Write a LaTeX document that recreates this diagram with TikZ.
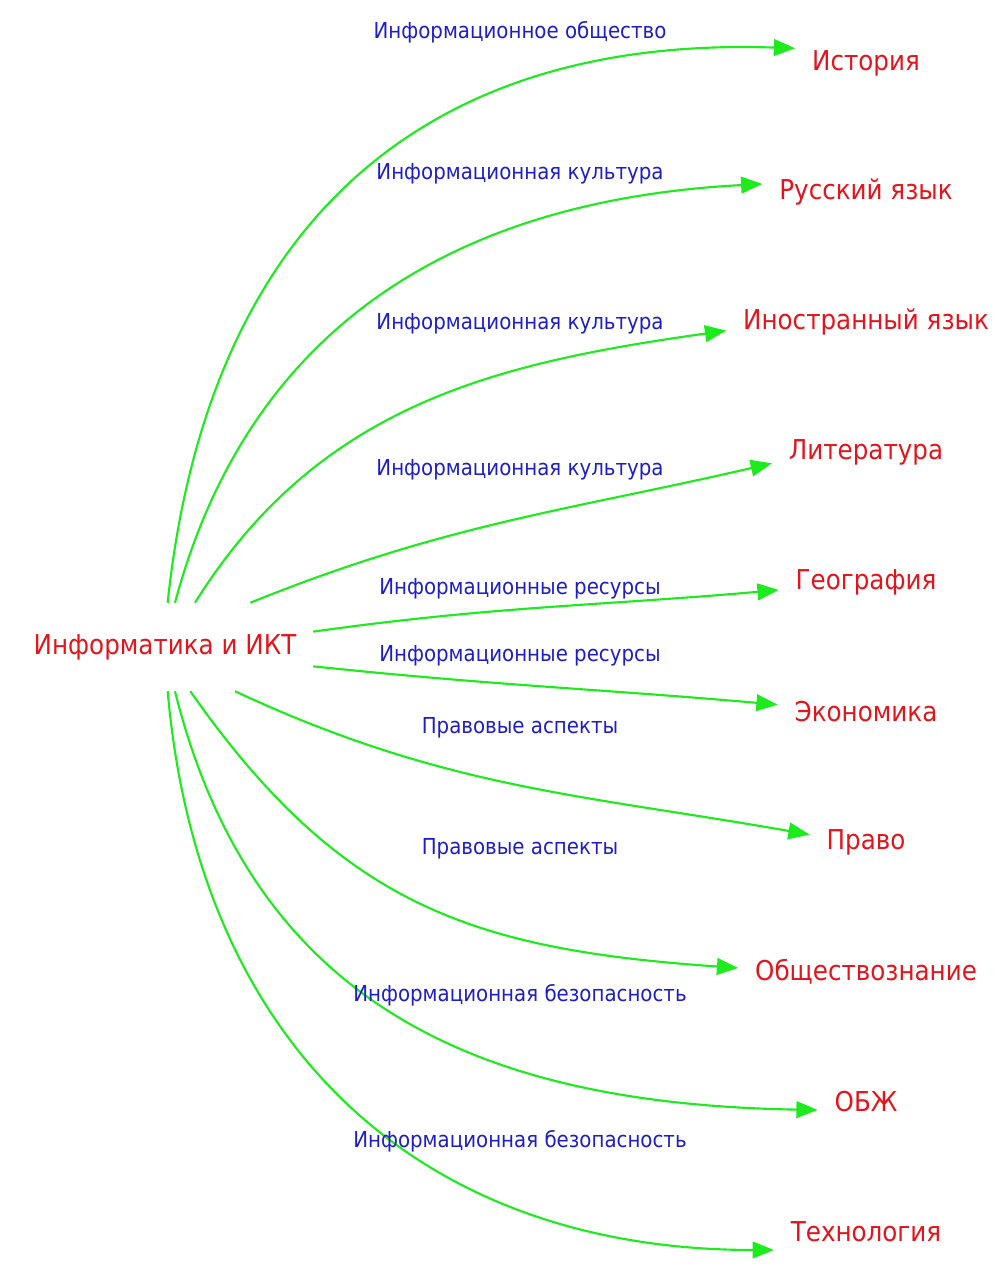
\documentclass[tikz,border=0pt]{standalone}
\usepackage{fontspec}
\setmainfont[FakeStretch=0.9]{DejaVu Sans}
\usetikzlibrary{arrows.meta}
\definecolor{subjred}{RGB}{228,20,28}
\definecolor{linkblue}{RGB}{30,30,200}
\definecolor{flowgreen}{RGB}{30,235,30}
\tikzset{
  subj/.style={text=subjred, font=\fontsize{20.5}{22}\selectfont, inner xsep=12.5pt, inner ysep=0pt, minimum height=20pt},
  link/.style={text=linkblue, font=\fontsize{16.5}{18}\selectfont, inner sep=0pt},
  flow/.style={draw=flowgreen, line width=1.6pt, -{Triangle[length=16pt,width=12.5pt]}}
}
\begin{document}
\begin{tikzpicture}[x=0.75pt,y=0.75pt]
\useasboundingbox (0,0) rectangle (1002,1280);
\node [subj, minimum height=63pt] (ikt) at (165,633) {Информатика и ИКТ};

\node [subj] (hist) at (866,1217) {История};
\node [subj] (rus) at (866,1088) {Русский язык};
\node [subj] (foreign) at (866,958) {Иностранный язык};
\node [subj] (lit) at (866,828) {Литература};
\node [subj] (geo) at (866,698) {География};
\node [subj] (econ) at (866,568) {Экономика};
\node [subj] (law) at (866,438) {Право};
\node [subj] (soc) at (866,308) {Обществознание};
\node [subj] (obzh) at (866,178) {ОБЖ};
\node [subj] (tech) at (866,48) {Технология};

\draw [flow] ([xshift=2pt,yshift=1.5pt]ikt.north) to[out=84,in=178,looseness=1.15] ([yshift=11pt]hist.west);
\draw [flow] ([xshift=7.5pt,yshift=1.5pt]ikt.north) to[out=75,in=183,looseness=1.05] ([yshift=6pt]rus.west);
\draw [flow] ([xshift=22.5pt,yshift=1.5pt]ikt.north) to[out=58,in=188] ([yshift=-6.5pt]foreign.west);
\draw [flow] ([xshift=64pt,yshift=1.5pt]ikt.north) to[out=22,in=193] ([yshift=-8.5pt]lit.west);
\draw [flow] ([yshift=11.5pt]ikt.east) to[out=8,in=185] ([yshift=-6pt]geo.west);
\draw [flow] ([yshift=-14.5pt]ikt.east) to[out=-6,in=175] ([yshift=5.5pt]econ.west);
\draw [flow] ([xshift=52.5pt,yshift=-1.5pt]ikt.south) to[out=-25,in=170] ([yshift=5.5pt]law.west);
\draw [flow] ([xshift=19pt,yshift=-1.5pt]ikt.south) to[out=-55,in=176,looseness=1.1] ([yshift=3pt]soc.west);
\draw [flow] ([xshift=7.5pt,yshift=-1.5pt]ikt.south) to[out=-76,in=179,looseness=1.1] ([yshift=-6pt]obzh.west);
\draw [flow] ([xshift=2pt,yshift=-1.5pt]ikt.south) to[out=-85,in=180,looseness=1.1] ([yshift=-13.5pt]tech.west);

\node [link] (l1) at (520,1248) {Информационное общество};
\node [link] (l2) at (520,1106) {Информационная культура};
\node [link] (l3) at (520,956) {Информационная культура};
\node [link] (l4) at (520,810) {Информационная культура};
\node [link] (l5) at (520,691) {Информационные ресурсы};
\node [link] (l6) at (520,624) {Информационные ресурсы};
\node [link] (l7) at (520,552) {Правовые аспекты};
\node [link] (l8) at (520,431) {Правовые аспекты};
\node [link] (l9) at (520,285) {Информационная безопасность};
\node [link] (l10) at (520,139) {Информационная безопасность};
\end{tikzpicture}
\end{document}
